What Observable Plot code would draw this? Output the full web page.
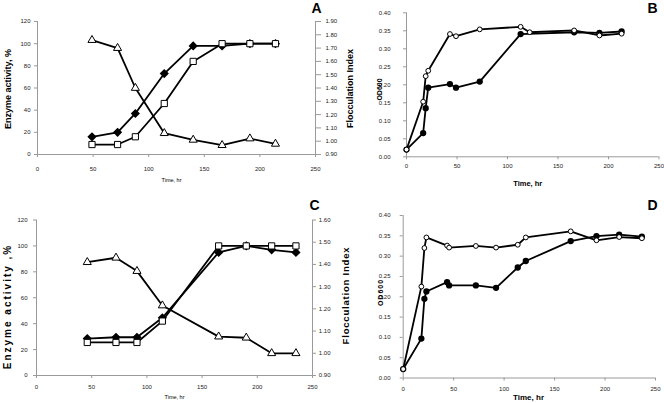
<!DOCTYPE html>
<html><head><meta charset="utf-8">
<script src="https://cdn.jsdelivr.net/npm/d3@7"></script>
<script src="https://cdn.jsdelivr.net/npm/@observablehq/plot@0.6"></script>
<style>
body{margin:0;background:#fff}
#chart{position:relative;width:664px;height:403px;overflow:hidden;background:#fff}
#chart svg{position:absolute;left:0;top:0;background:transparent;overflow:visible}
</style></head><body><div id="chart"></div>
<script>
// ---- Panel A (enzyme activity, % and flocculation index) ----
const timeA = [49, 72, 88, 114, 140, 166, 191, 214];
const diamondA = [16, 20, 37, 73, 98, 98, 100, 100];
const squareA = [9, 9, 16, 46, 84, 100, 100, 100];
const triangleA = [1.76, 1.70, 1.40, 1.06, 1.01, 0.97, 1.02, 0.98];

// ---- Panel C ----
const timeC = [46, 72, 91, 114, 165, 190, 213, 235];
const diamondC = [28.5, 29.5, 29.5, 44.5, 95, 100, 97, 95];
const squareC = [25.5, 25.5, 25.5, 42, 100, 100, 100, 100];
const triangleC = [1.41, 1.43, 1.37, 1.215, 1.075, 1.07, 1.00, 1.00];

// ---- Panel B (OD600) ----
const timeBopen = [0, 16.5, 19, 21.5, 43, 49, 72.5, 113, 122, 166, 191, 213];
const odBopen = [0.02, 0.153, 0.224, 0.239, 0.341, 0.335, 0.354, 0.361, 0.346, 0.351, 0.337, 0.342];
const timeBfilled = [0, 16.5, 19, 21.5, 43, 49, 72.5, 113, 166, 191, 213];
const odBfilled = [0.02, 0.066, 0.135, 0.192, 0.202, 0.192, 0.209, 0.341, 0.346, 0.344, 0.348];

// ---- Panel D (OD600) ----
const timeD = [0, 18, 21, 23, 43.5, 45.5, 72, 92, 113.5, 121.5, 166, 191.5, 214, 236.5];
const odDopen = [0.022, 0.225, 0.32, 0.346, 0.326, 0.321, 0.325, 0.321, 0.328, 0.346, 0.361, 0.339, 0.347, 0.344];
const odDfilled = [0.022, 0.097, 0.195, 0.213, 0.236, 0.228, 0.228, 0.222, 0.272, 0.288, 0.337, 0.349, 0.353, 0.348];

// ---- ticks ----
const timeTicks = [0, 50, 100, 150, 200, 250];
const enzymeTicks = [0, 20, 40, 60, 80, 100, 120];
const flocTicksA = [0.9, 1.0, 1.1, 1.2, 1.3, 1.4, 1.5, 1.6, 1.7, 1.8, 1.9];
const flocTicksC = [0.9, 1.0, 1.1, 1.2, 1.3, 1.4, 1.5, 1.6];
const odTicks = [0, 0.05, 0.1, 0.15, 0.2, 0.25, 0.3, 0.35, 0.4];

const W = 664, H = 403;
const FONT = "'Liberation Sans', Arial, sans-serif";
const AX = "#9a9a9a";
const TXT = "#222";
const f2 = d3.format(".2f");
const zip = (t, ...cols) => t.map((v, i) => ({t: v, ...Object.fromEntries(cols.map(([k, a]) => [k, a[i]]))}));

function mk(fr, yDomain, marks, xAxis = true) {
  return Plot.plot({
    width: W, height: H,
    marginLeft: fr.l, marginRight: W - fr.r, marginTop: fr.t, marginBottom: H - fr.b,
    style: {fontFamily: FONT, background: "transparent", overflow: "visible"},
    x: xAxis ? {domain: [0, 250]} : {domain: [0, 250], axis: null},
    y: {domain: yDomain},
    marks
  });
}
const lbl = (s, o) => Plot.text([s], {textAnchor: "middle", lineAnchor: "middle", fill: "#000", fontWeight: "bold", ...o});

const host = document.getElementById("chart");
const charts = [];

// Panel A
{
  const fr = {l: 37, r: 315, t: 21, b: 154};
  const data = zip(timeA, ["d", diamondA], ["s", squareA], ["tr", triangleA]);
  charts.push(mk(fr, [0, 120], [
    Plot.ruleX([0], {stroke: AX}),
    Plot.ruleY([0], {stroke: AX}),
    Plot.axisY({ticks: enzymeTicks, tickSize: 3, tickPadding: 4, fontSize: 6, stroke: AX, fill: TXT, label: null}),
    Plot.axisX({ticks: timeTicks, tickSize: 3, tickPadding: 9, fontSize: 6, stroke: AX, fill: TXT, label: null}),
    Plot.line(data, {x: "t", y: "d", stroke: "#000", strokeWidth: 1.8}),
    Plot.dot(data, {x: "t", y: "d", symbol: "diamond2", r: 3.2, fill: "#000", stroke: "#000"}),
    Plot.line(data, {x: "t", y: "s", stroke: "#000", strokeWidth: 1.8}),
    Plot.dot(data, {x: "t", y: "s", symbol: "square", r: 3.5, fill: "#fff", stroke: "#000", strokeWidth: 1}),
    lbl("A", {frameAnchor: "top-right", dx: 1, dy: -12.5, fontSize: 14}),
    lbl("Enzyme activity, %", {frameAnchor: "left", dx: -29, dy: 1, fontSize: 9, rotate: -90}),
    lbl("Flocculation Index", {frameAnchor: "right", dx: 35, dy: 0.5, fontSize: 9, rotate: -90}),
    lbl("Time, hr", {frameAnchor: "bottom", dx: -5, dy: 26, fontSize: 5.5, fontWeight: "normal"})
  ]));
  charts.push(mk(fr, [0.9, 1.9], [
    Plot.ruleX([250], {stroke: AX}),
    Plot.axisY({anchor: "right", ticks: flocTicksA, tickFormat: f2, tickSize: 5, tickPadding: 5, fontSize: 6, stroke: AX, fill: TXT, label: null}),
    Plot.line(data, {x: "t", y: "tr", stroke: "#000", strokeWidth: 1.8}),
    Plot.dot(data, {x: "t", y: "tr", symbol: "triangle", r: 3, fill: "#fff", stroke: "#000", strokeWidth: 1})
  ], false));
}

// Panel B
{
  const fr = {l: 406, r: 658.5, t: 12.3, b: 156.3};
  const open = zip(timeBopen, ["v", odBopen]);
  const filled = zip(timeBfilled, ["v", odBfilled]);
  charts.push(mk(fr, [0, 0.4], [
    Plot.ruleX([0], {stroke: AX}),
    Plot.ruleY([0], {stroke: AX}),
    Plot.axisY({ticks: odTicks, tickFormat: f2, tickSize: 3, tickPadding: 13, fontSize: 6, stroke: AX, fill: TXT, label: null}),
    Plot.axisX({ticks: timeTicks, tickSize: 3, tickPadding: 4.4, fontSize: 6, stroke: AX, fill: TXT, label: null}),
    Plot.line(filled, {x: "t", y: "v", stroke: "#000", strokeWidth: 1.8}),
    Plot.dot(filled, {x: "t", y: "v", r: 2.4, fill: "#000", stroke: "#000"}),
    Plot.line(open, {x: "t", y: "v", stroke: "#000", strokeWidth: 1.8}),
    Plot.dot(open, {x: "t", y: "v", r: 2.4, fill: "#fff", stroke: "#000", strokeWidth: 1}),
    lbl("B", {frameAnchor: "top-right", dx: -6.5, dy: -3.8, fontSize: 14}),
    lbl("OD600", {frameAnchor: "left", dx: -27, dy: 4.7, fontSize: 7, rotate: -90}),
    lbl("Time, hr", {frameAnchor: "bottom", dx: -5, dy: 26.7, fontSize: 7.5})
  ]));
}

// Panel C
{
  const fr = {l: 36, r: 312, t: 219.5, b: 375};
  const data = zip(timeC, ["d", diamondC], ["s", squareC], ["tr", triangleC]);
  charts.push(mk(fr, [0, 120], [
    Plot.ruleX([0], {stroke: AX}),
    Plot.ruleY([0], {stroke: AX}),
    Plot.axisY({ticks: enzymeTicks, tickSize: 3, tickPadding: 6, fontSize: 6, stroke: AX, fill: TXT, label: null}),
    Plot.axisX({ticks: timeTicks, tickSize: 3, tickPadding: 6.7, fontSize: 6, stroke: AX, fill: TXT, label: null}),
    Plot.line(data, {x: "t", y: "d", stroke: "#000", strokeWidth: 1.8}),
    Plot.dot(data, {x: "t", y: "d", symbol: "diamond2", r: 3.2, fill: "#000", stroke: "#000"}),
    Plot.line(data, {x: "t", y: "s", stroke: "#000", strokeWidth: 1.8}),
    Plot.dot(data, {x: "t", y: "s", symbol: "square", r: 3.5, fill: "#fff", stroke: "#000", strokeWidth: 1}),
    lbl("C", {frameAnchor: "top-right", dx: 2, dy: -14, fontSize: 14}),
    lbl("Enzyme activity ,%", {frameAnchor: "left", dx: -29, dy: 8.75, fontSize: 10, rotate: -90}),
    lbl("Flocculation Index", {frameAnchor: "right", dx: 33, dy: -2.25, fontSize: 9.5, rotate: -90}),
    lbl("Time, hr", {frameAnchor: "bottom", dx: 0, dy: 21.7, fontSize: 5.5, fontWeight: "normal"})
  ]));
  charts.push(mk(fr, [0.9, 1.6], [
    Plot.ruleX([250], {stroke: AX}),
    Plot.axisY({anchor: "right", ticks: flocTicksC, tickFormat: f2, tickSize: 3, tickPadding: 3.3, fontSize: 6, stroke: AX, fill: TXT, label: null}),
    Plot.line(data, {x: "t", y: "tr", stroke: "#000", strokeWidth: 1.8}),
    Plot.dot(data, {x: "t", y: "tr", symbol: "triangle", r: 3, fill: "#fff", stroke: "#000", strokeWidth: 1})
  ], false));
}

// Panel D
{
  const fr = {l: 402.7, r: 655, t: 215, b: 377.5};
  const open = zip(timeD, ["v", odDopen]);
  const filled = zip(timeD, ["v", odDfilled]);
  charts.push(mk(fr, [0, 0.4], [
    Plot.ruleX([0], {stroke: AX}),
    Plot.ruleY([0], {stroke: AX}),
    Plot.axisY({ticks: odTicks, tickFormat: f2, tickSize: 3, tickPadding: 9.7, fontSize: 6, stroke: AX, fill: TXT, label: null}),
    Plot.axisX({ticks: timeTicks, tickSize: 3, tickPadding: 5.5, fontSize: 6, stroke: AX, fill: TXT, label: null}),
    Plot.line(filled, {x: "t", y: "v", stroke: "#000", strokeWidth: 1.8}),
    Plot.dot(filled, {x: "t", y: "v", r: 2.4, fill: "#000", stroke: "#000"}),
    Plot.line(open, {x: "t", y: "v", stroke: "#000", strokeWidth: 1.8}),
    Plot.dot(open, {x: "t", y: "v", r: 2.4, fill: "#fff", stroke: "#000", strokeWidth: 1}),
    lbl("D", {frameAnchor: "top-right", dx: -3, dy: -9.5, fontSize: 14}),
    lbl("OD600", {frameAnchor: "left", dx: -22.7, dy: -4.25, fontSize: 7, rotate: -90}),
    lbl("Time, hr", {frameAnchor: "bottom", dx: -0.85, dy: 19.2, fontSize: 8})
  ]));
}

for (const c of charts) host.appendChild(c);

// letter spacing for the spread-out labels
d3.select(host).selectAll("text").each(function () {
  if (this.textContent === "Enzyme activity ,%") this.style.letterSpacing = "2px";
});
d3.select(charts[charts.length - 1]).selectAll("text").each(function () {
  if (this.textContent === "OD600") this.style.letterSpacing = "1px";
});
d3.select(charts[3]).selectAll("text").each(function () {
  if (this.textContent === "Flocculation Index") this.style.letterSpacing = "0.8px";
});
</script></body></html>
